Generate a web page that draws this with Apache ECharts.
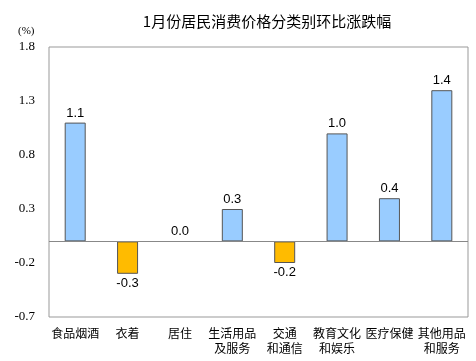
<!DOCTYPE html>
<html><head><meta charset="utf-8">
<script src="https://cdn.jsdelivr.net/npm/echarts@6/dist/echarts.min.js"></script>
<style>html,body{margin:0;padding:0;background:#fff}#c{width:476px;height:361px}</style>
</head><body><div id="c"></div>
<script>
var categories = ['食品烟酒','衣着','居住','生活用品\n及服务','交通\n和通信','教育文化\n和娱乐','医疗保健','其他用品\n和服务'];
var values = [1.1, -0.3, 0.0, 0.3, -0.2, 1.0, 0.4, 1.4];
var yMin = -0.7, yMax = 1.8, yStep = 0.5;
var titleText = '1月份居民消费价格分类别环比涨跌幅';
var unitText = '(%)';

var chart = echarts.init(document.getElementById('c'));
chart.setOption({
  animation: false,
  backgroundColor: '#fff',
  title: {
    text: titleText, left: 262, top: 9, textAlign: 'center',
    textStyle: {fontFamily: 'Noto Sans CJK SC', fontSize: 15, fontWeight: 'normal', color: '#000'}
  },
  graphic: [{type: 'text', left: 18, top: 26, style: {text: unitText, font: '11px "Liberation Serif"', fill: '#000'}}],
  grid: {left: 49, right: 8, top: 47, bottom: 44, show: true, borderColor: '#999', borderWidth: 1},
  xAxis: {
    type: 'category', data: categories,
    axisLine: {show: false}, axisTick: {show: false},
    axisLabel: {fontFamily: 'Noto Sans CJK SC', fontSize: 12, color: '#000', margin: 9, interval: 0, lineHeight: 15}
  },
  yAxis: {
    type: 'value', min: yMin, max: yMax, interval: yStep,
    splitLine: {show: false},
    axisLine: {show: false}, axisTick: {show: false},
    axisLabel: {fontFamily: 'Liberation Serif', fontSize: 13, color: '#000', margin: 14,
      formatter: function(v){ return v.toFixed(1); }}
  },
  series: [{
    type: 'bar', data: values.map(function(v){
      return {value: v,
        itemStyle: {color: v < 0 ? '#FFBB00' : '#99CCFF', borderWidth: v === 0 ? 0 : 1},
        label: {position: v < 0 ? 'bottom' : 'top'}};
    }),
    barWidth: 21,
    itemStyle: {borderColor: '#555', borderWidth: 1},
    label: {show: true, fontFamily: 'Liberation Sans', fontSize: 13, color: '#000', distance: 3,
      formatter: function(p){ return p.value.toFixed(1); }},
    markLine: {silent: true, symbol: 'none', label: {show: false},
      lineStyle: {color: '#888', type: 'solid', width: 1}, data: [{yAxis: 0}]}
  }]
});
</script></body></html>
